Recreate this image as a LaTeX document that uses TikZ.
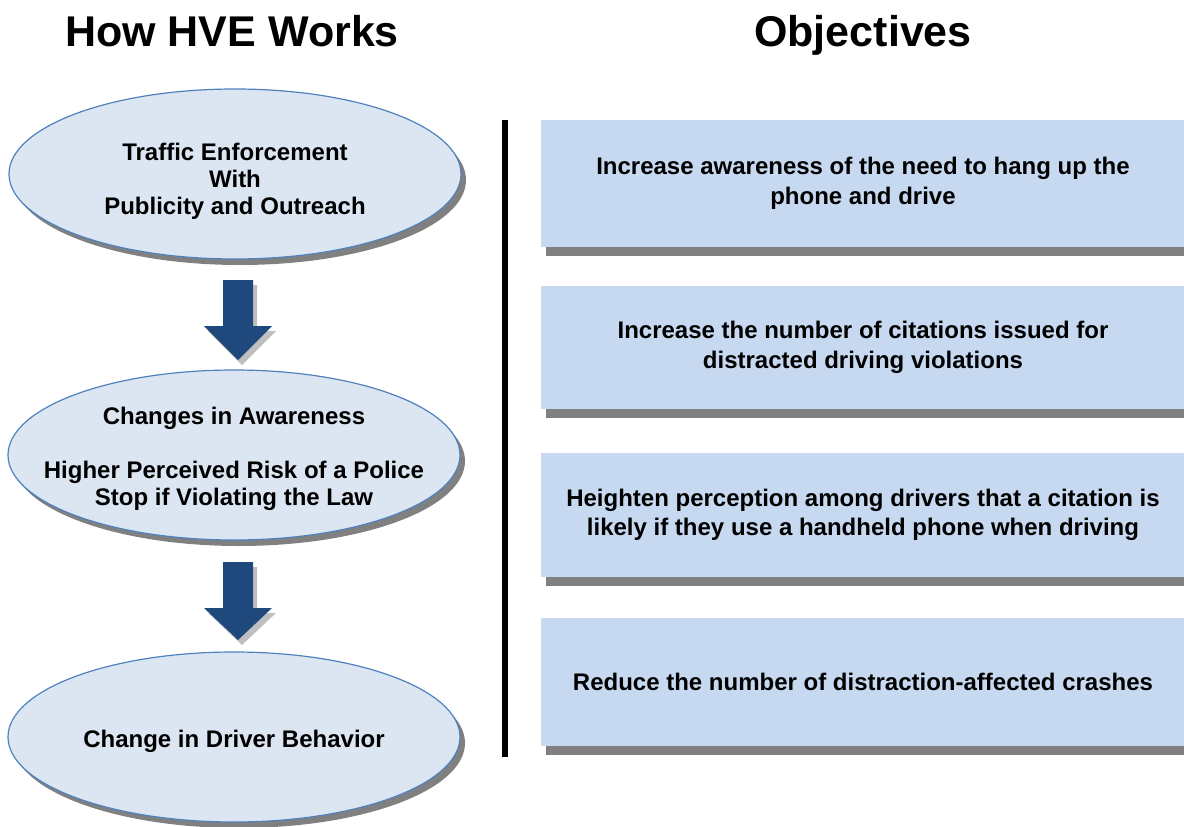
\documentclass[tikz,border=0pt]{standalone}
\usepackage{fontspec}
\setmainfont{Liberation Sans}
\usepackage{xcolor}
\usetikzlibrary{positioning,shapes.geometric,shadows}

\definecolor{ovalfill}{HTML}{DCE6F2}
\definecolor{ovalline}{HTML}{4F81BD}
\definecolor{boxfill}{HTML}{C6D9F0}
\definecolor{arrowblue}{HTML}{1F497D}
\definecolor{darkshade}{HTML}{808080}
\definecolor{lightshade}{HTML}{BFBFBF}

\begin{document}
\begin{tikzpicture}[x=1pt, y=-1pt,
    title/.style={font=\fontsize{43}{48}\selectfont\bfseries, anchor=base},
    oval/.style={ellipse, draw=ovalline, line width=1.2pt, fill=ovalfill,
        minimum width=452pt, minimum height=170pt, inner sep=0pt,
        drop shadow={shadow xshift=5pt, shadow yshift=-6pt, fill=darkshade, opacity=1}},
    ovaltext/.style={align=center, font=\fontsize{24}{27}\selectfont\bfseries},
    objective/.style={rectangle, fill=boxfill, minimum width=644pt, align=center,
        font=\fontsize{24}{29.5}\selectfont\bfseries,
        drop shadow={shadow xshift=5pt, shadow yshift=-9pt, fill=darkshade, opacity=1}},
    flowarrow/.style={fill=arrowblue,
        drop shadow={shadow xshift=4pt, shadow yshift=-5pt, fill=lightshade, opacity=1}}]
    \useasboundingbox (0,0) rectangle (1184,827);

    % headings
    \node[title] (hvetitle) at (232,46) {How HVE Works};
    \node[title] (objtitle) at (863,46) {Objectives};

    % left column
    \node[oval] (e1) at (235,174) {};
    \node[oval] (e2) at (234,455) {};
    \node[oval] (e3) at (234,737) {};
    \node[ovaltext] (t1) at (235,181) {Traffic Enforcement\\With\\Publicity and Outreach};
    \node[ovaltext] (t2) at (234,459) {Changes in Awareness\\[27pt]Higher Perceived Risk of a Police\\Stop if Violating the Law};
    \node[ovaltext] (t3) at (234,741) {Change in Driver Behavior};

    \fill[flowarrow] (223,280) -- (253,280) -- (253,326) -- (272,326) -- (238,360) -- (204,326) -- (223,326) -- cycle;
    \fill[flowarrow] (223,562) -- (253,562) -- (253,608) -- (272,608) -- (238,640) -- (204,608) -- (223,608) -- cycle;

    % divider
    \draw[line width=6pt] (505,120) -- (505,757);

    % right column
    \node[objective, minimum height=127pt] (o1) at (863,183.5) {Increase awareness of the need to hang up the\\phone and drive};
    \node[objective, minimum height=123pt] (o2) at (863,347.5) {Increase the number of citations issued for\\distracted driving violations};
    \node[objective, minimum height=124pt] (o3) at (863,515) {Heighten perception among drivers that a citation is\\likely if they use a handheld phone when driving};
    \node[objective, minimum height=128pt] (o4) at (863,682) {Reduce the number of distraction-affected crashes};
\end{tikzpicture}
\end{document}
